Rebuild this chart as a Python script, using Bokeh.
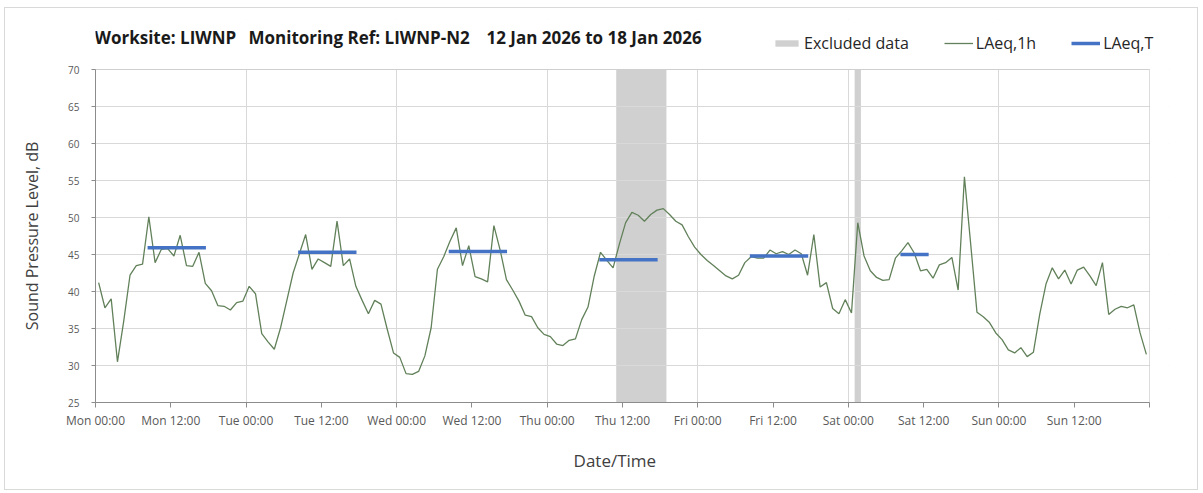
import numpy as np
from bokeh.plotting import figure
from bokeh.models import FixedTicker, Label, Range1d, BoxAnnotation
from bokeh.embed import file_html
from bokeh.resources import INLINE

# ---------------- data ----------------
laeq_1h = [
    # Mon
    41.2, 37.8, 39.0, 30.5, 36.0, 42.2, 43.5, 43.7, 50.1, 43.9, 45.7, 45.8,
    44.8, 47.6, 43.5, 43.4, 45.3, 41.1, 40.1, 38.1, 38.0, 37.5, 38.5, 38.7,
    # Tue
    40.7, 39.7, 34.3, 33.2, 32.2, 35.1, 38.8, 42.5, 45.1, 47.7, 43.0, 44.4,
    43.9, 43.4, 49.5, 43.5, 44.4, 40.7, 38.8, 37.0, 38.8, 38.3, 34.9, 31.7,
    # Wed
    31.1, 28.9, 28.8, 29.2, 31.3, 35.1, 43.0, 44.7, 46.8, 48.6, 43.5, 46.2,
    42.0, 41.7, 41.3, 48.9, 45.6, 41.6, 40.2, 38.7, 36.8, 36.6, 35.1, 34.2,
    # Thu
    33.9, 32.9, 32.7, 33.4, 33.6, 36.2, 37.9, 42.1, 45.3, 44.2, 43.2, 46.4,
    49.3, 50.7, 50.3, 49.5, 50.4, 51.0, 51.2, 50.4, 49.5, 49.0, 47.4, 46.0,
    # Fri
    45.0, 44.2, 43.5, 42.8, 42.1, 41.7, 42.2, 43.9, 44.7, 44.5, 44.5, 45.6,
    45.1, 45.4, 45.0, 45.6, 45.1, 42.2, 47.7, 40.6, 41.2, 37.7, 37.0, 38.9,
    # Sat
    37.1, 49.3, 44.8, 42.8, 41.9, 41.5, 41.6, 44.5, 45.5, 46.6, 45.2, 42.8,
    43.0, 41.8, 43.6, 43.9, 44.6, 40.2, 55.5, 46.4, 37.2, 36.6, 35.8, 34.4,
    # Sun
    33.5, 32.1, 31.7, 32.4, 31.2, 31.8, 36.9, 41.0, 43.2, 41.7, 42.9, 41.0,
    42.9, 43.3, 42.1, 40.8, 43.9, 36.9, 37.6, 38.0, 37.8, 38.2, 34.4, 31.5,
]
# hours since Mon 00:00 (hourly values plotted at mid-hour)
hours = [h + 0.5 for h in range(len(laeq_1h))]

# LAeq,T periods (hours since Mon 00:00) and levels
lt_start = [8.3, 32.3, 56.3, 80.3, 104.3, 128.3]
lt_end = [17.6, 41.6, 65.6, 89.6, 113.6, 132.8]
lt_value = [45.9, 45.3, 45.4, 44.3, 44.8, 45.0]

# Excluded data periods (hours since Mon 00:00)
excl_start = [83.0, 121.0]
excl_end = [91.0, 122.0]

x_ticks = [0, 12, 24, 36, 48, 60, 72, 84, 96, 108, 120, 132, 144, 156, 168]
x_tick_labels = ["Mon 00:00", "Mon 12:00", "Tue 00:00", "Tue 12:00", "Wed 00:00",
                 "Wed 12:00", "Thu 00:00", "Thu 12:00", "Fri 00:00", "Fri 12:00",
                 "Sat 00:00", "Sat 12:00", "Sun 00:00", "Sun 12:00", ""]
x_grid = [24, 48, 72, 96, 120, 144]
y_ticks = [25, 30, 35, 40, 45, 50, 55, 60, 65, 70]
y_min, y_max = 25, 70
x_min, x_max = 0, 168

title_parts = ["Worksite: LIWNP", "Monitoring Ref: LIWNP-N2", "12 Jan 2026 to 18 Jan 2026"]
x_title = "Date/Time"
y_title = "Sound Pressure Level, dB"

FONT = "Open Sans"
NBSP = "\u00a0"

# ---------------- layout numbers (pixels) ----------------
PLOT_W = 1054         # width of the Mon..Sun area
PLOT_H = 333          # height of the 25..70 dB area
HEAD = 50             # extra room above the plot area for title / legend
RIGHT = 20            # extra room right of the plot area for the legend
px_per_db = PLOT_H / (y_max - y_min)
px_per_h = PLOT_W / (x_max - x_min)
y_top = y_max + HEAD / px_per_db
x_right = x_max + RIGHT / px_per_h

# ---------------- figure ----------------
p = figure(
    output_backend="svg", toolbar_location=None,
    frame_width=PLOT_W + RIGHT, frame_height=PLOT_H + HEAD,
    min_border_left=90, min_border_right=48 - RIGHT, min_border_top=11, min_border_bottom=87,
    x_range=Range1d(x_min, x_right), y_range=Range1d(y_min, y_top),
    background_fill_color="white", border_fill_color="white",
)
p.styles = {"border": "1px solid #d9d9d9", "margin-left": "4px", "margin-top": "7px"}
p.outline_line_color = None

# white covers above / right of the plot area (hide grid lines there)
p.add_layout(BoxAnnotation(bottom=y_max, fill_color="white", fill_alpha=1.0,
                           line_color=None, level="underlay"))
p.add_layout(BoxAnnotation(left=x_max, fill_color="white", fill_alpha=1.0,
                           line_color=None, level="underlay"))
# plot-area border
p.add_layout(BoxAnnotation(left=x_min, right=x_max, bottom=y_min, top=y_max,
                           fill_alpha=0, line_color="#8c8c8c", line_width=1))

# excluded data bands
p.quad(left=excl_start, right=excl_end, bottom=y_min, top=y_max,
       fill_color="#d0d0d0", line_color=None, level="image",
       legend_label="Excluded data")

# hourly line
p.line(hours, laeq_1h, line_color="#62815a", line_width=1.3, legend_label="LAeq,1h")

# LAeq,T segments
p.segment(x0=lt_start, y0=lt_value, x1=lt_end, y1=lt_value,
          line_color="#4472c4", line_width=3.5, legend_label="LAeq,T")

# ---------------- axes ----------------
p.xaxis.bounds = (x_min, x_max)
p.xaxis.ticker = FixedTicker(ticks=x_ticks)
p.xaxis.major_label_overrides = {t: l for t, l in zip(x_ticks, x_tick_labels)}
p.xaxis.minor_tick_line_color = None
p.xaxis.major_tick_in = 0
p.xaxis.major_tick_out = 5
p.xaxis.major_tick_line_color = "#8c8c8c"
p.xaxis.axis_line_color = "#8c8c8c"
p.xaxis.major_label_text_font = FONT
p.xaxis.major_label_text_font_size = "12px"
p.xaxis.major_label_text_color = "#595959"
p.xaxis.major_label_standoff = 4
# trailing no-break spaces nudge the centred label slightly to the left
p.xaxis.axis_label = x_title + NBSP * 8
p.xaxis.axis_label_text_font = FONT
p.xaxis.axis_label_text_font_size = "17px"
p.xaxis.axis_label_text_font_style = "normal"
p.xaxis.axis_label_text_color = "#404040"
p.xaxis.axis_label_standoff = 17

p.yaxis.bounds = (y_min, y_max)
p.yaxis.ticker = FixedTicker(ticks=y_ticks)
p.yaxis.minor_tick_line_color = None
p.yaxis.major_tick_in = 0
p.yaxis.major_tick_out = 4
p.yaxis.major_tick_line_color = "#8c8c8c"
p.yaxis.axis_line_color = "#8c8c8c"
p.yaxis.major_label_text_font = FONT
p.yaxis.major_label_text_font_size = "10px"
p.yaxis.major_label_text_color = "#595959"
p.yaxis.major_label_standoff = 12
# trailing no-break spaces centre the visible text on the 25..70 dB area
p.yaxis.axis_label = y_title + NBSP * 12
p.yaxis.axis_label_text_font = FONT
p.yaxis.axis_label_text_font_size = "16px"
p.yaxis.axis_label_text_font_style = "normal"
p.yaxis.axis_label_text_color = "#404040"
p.yaxis.axis_label_standoff = 22

p.ygrid.ticker = FixedTicker(ticks=y_ticks)
p.ygrid.grid_line_color = "#d9d9d9"
p.xgrid.ticker = FixedTicker(ticks=x_grid)
p.xgrid.grid_line_color = "#d9d9d9"

# ---------------- title ----------------
for txt, xs in zip(title_parts, [-1, 153, 391]):
    p.add_layout(Label(x=xs, y=PLOT_H + 32, x_units="screen", y_units="screen", text=txt,
                       text_font=FONT, text_font_size="17px", text_font_style="bold",
                       text_color="#1a1a1a", text_baseline="middle", text_align="left"))

# ---------------- legend ----------------
lg = p.legend[0]
lg.orientation = "horizontal"
lg.location = (677, PLOT_H + 15)
lg.padding = 0
lg.margin = 0
lg.spacing = 35
lg.glyph_width = 29
lg.glyph_height = 8
lg.label_height = 8
lg.label_standoff = 3
lg.label_text_font = FONT
lg.label_text_font_size = "16px"
lg.label_text_color = "#262626"
lg.border_line_color = None
lg.background_fill_alpha = 0

open("out.html", "w").write(file_html(p, INLINE))
